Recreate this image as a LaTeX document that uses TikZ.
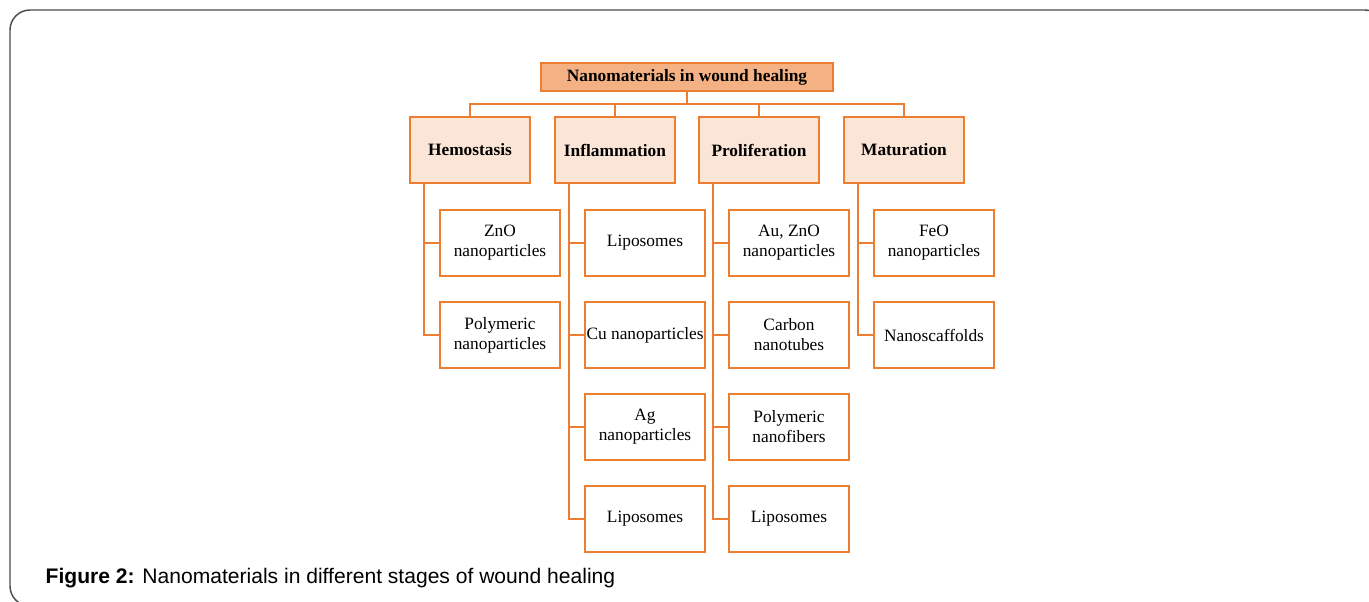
\documentclass[tikz,border=0pt]{standalone}
\usepackage{fontspec}
\setmainfont{Liberation Serif}
\newfontfamily\capfont{Liberation Sans}
\usepackage{tikz}
\definecolor{edgeor}{HTML}{ED7D31}
\definecolor{titlefill}{HTML}{F4B183}
\definecolor{stagefill}{HTML}{FBE5D6}
\tikzset{
    topbox/.style={draw=edgeor, fill=titlefill, line width=1.2pt, inner sep=0pt,
        minimum width=219pt, minimum height=21pt, font=\fontsize{13}{15}\selectfont\bfseries},
    stagebox/.style={draw=edgeor, fill=stagefill, line width=1.2pt, inner sep=0pt,
        minimum width=90pt, minimum height=49.5pt, font=\fontsize{13}{15}\selectfont\bfseries},
    itembox/.style={draw=edgeor, fill=white, line width=1.2pt, inner sep=0pt, align=center,
        minimum width=90pt, minimum height=49.5pt, font=\fontsize{13}{15}\selectfont},
    link/.style={draw=edgeor, line width=1.2pt}}

\begin{document}
\begin{tikzpicture}[x=0.75pt, y=-0.75pt]

            \useasboundingbox (0,0) rectangle (1369,601);
            \draw[line width=1.1pt, black!70, rounded corners=15] (10,10) rectangle (1385,606);

            \node[topbox] (T) at (687,77) {Nanomaterials in wound healing};
            \coordinate (bus) at (687,104);

            \node[stagebox] (H) at (470,150) {Hemostasis};
            \node[stagebox] (I) at (615,150) {Inflammation};
            \node[stagebox] (P) at (759,150) {Proliferation};
            \node[stagebox] (M) at (904,150) {Maturation};

            \node[itembox] (H1) at (500,243) {ZnO\\nanoparticles};
            \node[itembox] (H2) at (500,335) {Polymeric\\nanoparticles};

            \node[itembox] (I1) at (645,243) {Liposomes};
            \node[itembox] (I2) at (645,335) {Cu nanoparticles};
            \node[itembox] (I3) at (645,427) {Ag\\nanoparticles};
            \node[itembox] (I4) at (645,519) {Liposomes};

            \node[itembox] (P1) at (789,243) {Au, ZnO\\nanoparticles};
            \node[itembox] (P2) at (789,335) {Carbon\\nanotubes};
            \node[itembox] (P3) at (789,427) {Polymeric\\nanofibers};
            \node[itembox] (P4) at (789,519) {Liposomes};

            \node[itembox] (M1) at (934,243) {FeO\\nanoparticles};
            \node[itembox] (M2) at (934,335) {Nanoscaffolds};

            \draw[link] (T) -- (bus);
            \foreach \s in {H,I,P,M}
                \draw[link] (bus) -| (\s.north);

            \foreach \s/\n in {H/2,I/4,P/4,M/2}
                \foreach \k in {1,...,\n}
                    \draw[link] ([xshift=11.25pt]\s.south west) |- (\s\k.west);

            \node[anchor=west, font=\capfont\fontsize{15.8}{18}\selectfont] (cap) at (41,578)
                {\textbf{Figure 2:} Nanomaterials in different stages of wound healing};

        \end{tikzpicture}
\end{document}
